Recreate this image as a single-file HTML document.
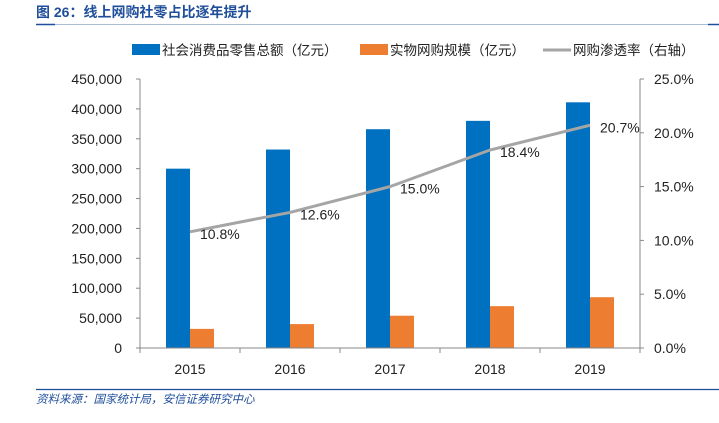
<!DOCTYPE html>
<html><head><meta charset="utf-8"><style>
body{margin:0;background:#fff;width:719px;height:418px;overflow:hidden;font-family:"Liberation Sans","Noto Sans CJK SC",sans-serif}
</style></head><body>
<svg width="719" height="418" xmlns="http://www.w3.org/2000/svg">
<text x="36" y="17" font-size="14" font-weight="bold" fill="#1f4e9a" font-family="Liberation Sans, Noto Sans CJK SC, sans-serif">图 26：线上网购社零占比逐年提升</text>
<line x1="36" y1="24.5" x2="719" y2="24.5" stroke="#a9bcd6" stroke-width="1"/>
<line x1="36" y1="24.5" x2="55" y2="24.5" stroke="#1f4e9a" stroke-width="1.5"/>
<line x1="708" y1="24.5" x2="719" y2="24.5" stroke="#1f4e9a" stroke-width="1.5"/>
<g font-size="13.5" fill="#222">
<rect x="132" y="44" width="28" height="11" fill="#0070c0"/>
<text x="162" y="55">社会消费品零售总额（亿元）</text>
<rect x="360" y="44" width="28" height="11" fill="#ed7d31"/>
<text x="390" y="55">实物网购规模（亿元）</text>
<line x1="543" y1="50" x2="571" y2="50" stroke="#a5a5a5" stroke-width="3"/>
<text x="573" y="55">网购渗透率（右轴）</text>
</g>
<g id="plot"></g>
<line x1="36" y1="389.5" x2="719" y2="389.5" stroke="#1f4e9a" stroke-width="1.2"/>
<text x="36" y="403" font-size="11.5" font-style="italic" fill="#1f4e9a">资料来源：国家统计局，安信证券研究中心</text>
</svg>
<script>
const categories=["2015","2016","2017","2018","2019"];
const retail=[300000,332000,366000,380000,411000];
const online=[32000,40000,54000,70000,85000];
const rate=[10.8,12.6,15.0,18.4,20.7];
const leftTicks=[0,50000,100000,150000,200000,250000,300000,350000,400000,450000];
const rightTicks=[0,5,10,15,20,25];
const X0=140,X1=640,Y0=348,Y1=79;
const ns="http://www.w3.org/2000/svg";
const g=document.getElementById('plot');
function yL(v){return Y0-(v/450000)*(Y0-Y1);}
function yR(v){return Y0-(v/25)*(Y0-Y1);}
function band(i){return X0+(X1-X0)/categories.length*i;}
function cx(i){return band(i)+(X1-X0)/categories.length/2;}
function mk(t,a,txt){const e=document.createElementNS(ns,t);for(const k in a)e.setAttribute(k,a[k]);if(txt!==undefined)e.textContent=txt;g.appendChild(e);return e;}
leftTicks.forEach(v=>{
 const t=mk('text',{x:122,y:yL(v)+5,'text-anchor':'end','font-size':'14',fill:'#222'},v.toLocaleString('en-US'));
 
 
 mk('line',{x1:136,x2:140,y1:yL(v),y2:yL(v),stroke:'#888'});
});
rightTicks.forEach(v=>{
 const t=mk('text',{x:654,y:yR(v)+5,'font-size':'14',fill:'#222'},v.toFixed(1)+'%');
 
 
 mk('line',{x1:640,x2:644,y1:yR(v),y2:yR(v),stroke:'#888'});
});
categories.forEach((c,i)=>{
 const b=mk('rect',{x:cx(i)-24,y:yL(retail[i]),width:24,height:Y0-yL(retail[i]),fill:'#0070c0'});
 
 
 const o=mk('rect',{x:cx(i),y:yL(online[i]),width:24,height:Y0-yL(online[i]),fill:'#ed7d31'});
 
 
 const t=mk('text',{x:cx(i),y:374,'text-anchor':'middle','font-size':'14',fill:'#222'},c);
 
 
 mk('line',{x1:band(i),x2:band(i),y1:Y0,y2:Y0+5,stroke:'#888'});
});
mk('line',{x1:X1,x2:X1,y1:Y0,y2:Y0+5,stroke:'#888'});
const ax=mk('line',{x1:X0,x2:X0,y1:Y1,y2:Y0,stroke:'#888'});


const ar=mk('line',{x1:X1,x2:X1,y1:Y1,y2:Y0,stroke:'#888'});


const bx=mk('line',{x1:X0-4,x2:X1,y1:Y0,y2:Y0,stroke:'#888'});


const pl=mk('polyline',{points:rate.map((v,i)=>cx(i)+','+yR(v)).join(' '),fill:'none',stroke:'#a5a5a5','stroke-width':3});


rate.forEach((v,i)=>{
 const t=mk('text',{x:cx(i)+10,y:yR(v)+7,'font-size':'14',fill:'#222'},v.toFixed(1)+'%');
 
 
});
</script>
</body></html>
